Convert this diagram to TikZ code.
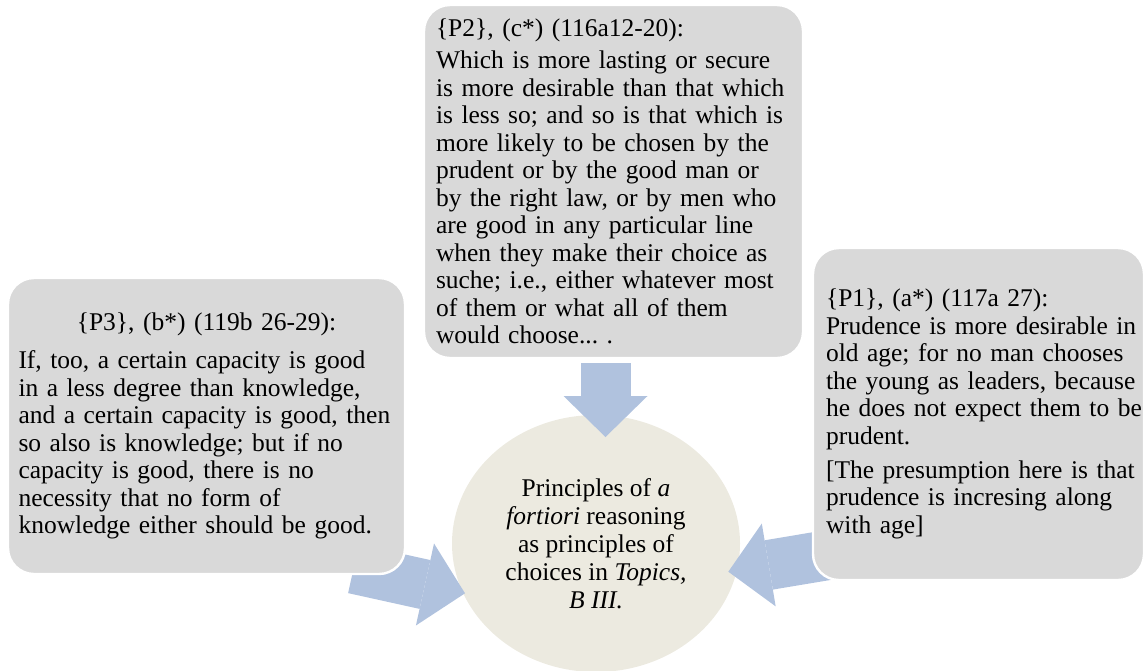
\documentclass[tikz,border=0pt]{standalone}
\usepackage{fontspec}
\setmainfont{Liberation Serif}
\usetikzlibrary{shapes.geometric,arrows.meta}
\definecolor{boxgray}{RGB}{217,217,217}
\definecolor{hubtan}{RGB}{236,234,224}
\definecolor{arrowblue}{RGB}{176,194,222}
\frenchspacing
\lefthyphenmin=62
\begin{document}
\begin{tikzpicture}[x=0.5pt,y=-0.5pt,
    >={Triangle[length=20.5pt,width=42pt,line width=0pt]},
    quotebox/.style={rectangle, rounded corners=13pt, fill=boxgray, draw=white,
      line width=1.2pt, inner sep=0pt, align=left,
      font=\fontsize{12.75}{13.75}\selectfont},
    hub/.style={ellipse, fill=hubtan, inner sep=0pt, minimum width=144pt,
      minimum height=128.5pt, align=center, font=\fontsize{12.75}{14}\selectfont},
    flowarrow/.style={->, draw=arrowblue, line width=25pt}]
  \useasboundingbox (0,0) rectangle (1145,670);
  % centre
  \node[hub] (hub) at (596,543.5) {Principles of \textit{a}\\
    \textit{fortiori} reasoning\\ as principles of\\
    choices in \textit{Topics,}\\ \textit{B III.}};
  % arrows
  \coordinate (p3tail) at (353.5,568.7);
  \coordinate (p3tip) at (465,593.3);
  \coordinate (p2tail) at (605.5,363);
  \coordinate (p2tip) at (605.5,437);
  \coordinate (p1tail) at (840.7,552.9);
  \coordinate (p1tip) at (728.3,571.7);
  \draw[flowarrow] (p3tail) -- (p3tip);
  \draw[flowarrow] (p2tail) -- (p2tip);
  \draw[flowarrow] (p1tail) -- (p1tip);
  % quotations
  \node[quotebox, minimum width=189.5pt, minimum height=176.5pt, text width=177.5pt]
    (p2) at (613.5,181.5) {\{P2\}, (c*) (116a12-20):\\[2.5pt]
    Which is more lasting or secure\\
    is~more~desirable~than~that~which\\
    is~less~so;~and~so~is~that~which~is\\
    more likely to be chosen by the\\
    prudent or by the good man or\\
    by~the~right~law,~or~by~men~who\\
    are good in any particular line\\
    when they make their choice as\\
    suche;~i.e.,~either~whatever~most\\
    of them or what all of them\\
    would choose... .};
  \node[quotebox, minimum width=198.5pt, minimum height=148pt, text width=188pt]
    (p3) at (206.5,426) {\makebox[\linewidth]{\{P3\}, (b*) (119b 26-29):}\\[5.25pt]
    If, too, a certain capacity is good\\
    in~a~less~degree~than~knowledge,\\
    and~a~certain~capacity~is~good,~then\\
    so also is knowledge; but if no\\
    capacity is good, there is no\\
    necessity that no form of\\
    knowledge~either~should~be~good.};
  \node[quotebox, minimum width=165.5pt, minimum height=166pt, text width=152.5pt]
    (p1) at (978.5,414) {\{P1\}, (a*) (117a 27):\\
    Prudence~is~more~desirable~in\\
    old~age;~for~no~man~chooses\\
    the~young~as~leaders,~because\\
    he~does~not~expect~them~to~be\\
    prudent.\\[3.25pt]
    {[}The~presumption~here~is~that\\
    prudence~is~incresing~along\\
    with age]\par\vspace{10.5pt}};
\end{tikzpicture}
\end{document}
